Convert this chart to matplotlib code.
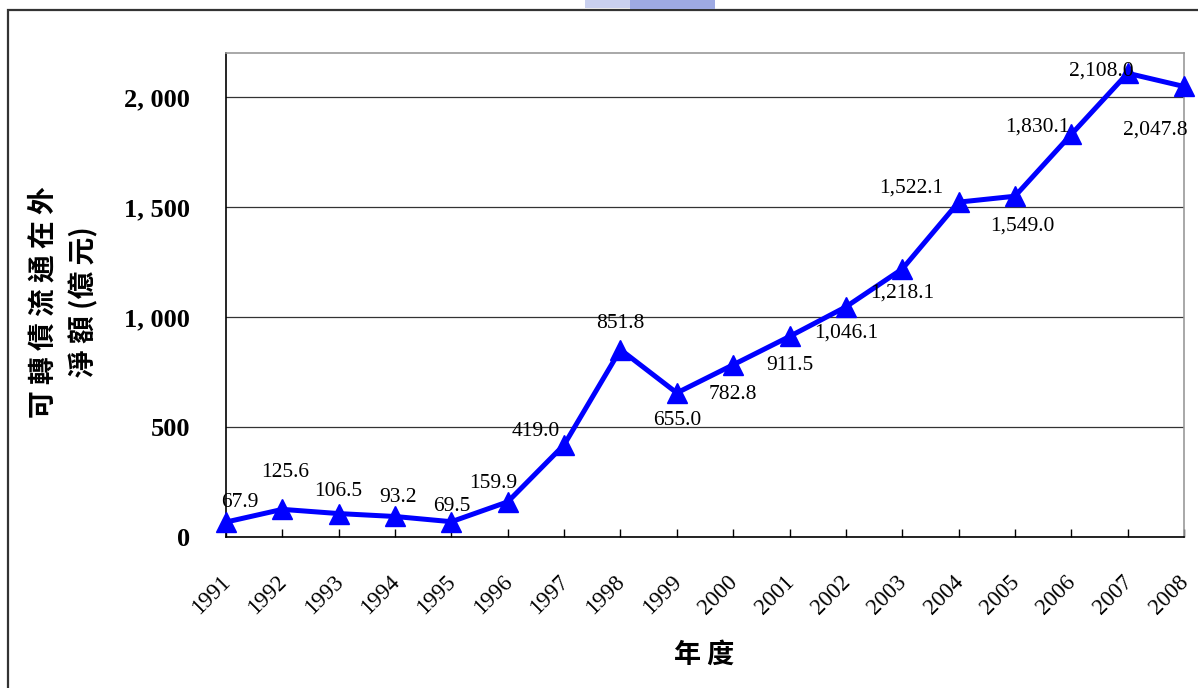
import numpy as np
import matplotlib
matplotlib.use("Agg")
import matplotlib.pyplot as plt
import matplotlib.transforms as mtransforms
from matplotlib.patches import Rectangle

plt.rcParams['font.family'] = ['Liberation Serif', 'Noto Sans CJK TC']

# 可轉債流通在外淨額 (億元)
years = ['1991', '1992', '1993', '1994', '1995', '1996', '1997', '1998', '1999',
         '2000', '2001', '2002', '2003', '2004', '2005', '2006', '2007', '2008']
amount = [67.9, 125.6, 106.5, 93.2, 69.5, 159.9, 419.0, 851.8, 655.0,
          782.8, 911.5, 1046.1, 1218.1, 1522.1, 1549.0, 1830.1, 2108.0, 2047.8]
y_ticks = [0, 500, 1000, 1500, 2000]

# label offsets in pixels (dx, dy) so the numbers don't sit on the line
label_off = [(14, 20), (3, 37), (0, 22), (3, 19), (0, 15), (-15, 18), (-28, 13),
             (0, 26), (0, -28), (0, -30), (0, -29), (0, -26), (0, -24),
             (-47, 14), (7, -30), (-34, 7), (-26, 2), (-29, -44)]

W, H = 1198, 688
fig = plt.figure(figsize=(W / 100, H / 100), dpi=100)
ax = fig.add_axes([226 / W, 151 / H, 958 / W, 484 / H])

x = np.arange(len(years))
ax.plot(x, amount, color='#0000ff', lw=3.6, marker='^', ms=14,
        markerfacecolor='#0000ff', markeredgecolor='#0000ff', zorder=3,
        clip_on=False)

for xi, v, (dx, dy) in zip(x, amount, label_off):
    ax.annotate(f"{v:,.1f}", (xi, v), xytext=(dx, dy), textcoords='offset pixels',
                ha='center', va='center', fontsize=15.5, color='black', zorder=4)

ax.set_xlim(0, len(years) - 1)
ax.set_ylim(0, 2200)
ax.set_yticks(y_ticks)
ax.set_yticklabels([f"{v:,}".replace(",", ", ") for v in y_ticks],
                   fontsize=19, fontweight='bold')
ax.tick_params(axis='y', length=0, pad=26)
ax.yaxis.grid(True, color='#333333', lw=0.9)
ax.set_axisbelow(True)

ax.set_xticks(x)
ax.set_xticklabels(years, rotation=45, ha='right', va='top',
                   rotation_mode='anchor', fontsize=16.5)
ax.tick_params(axis='x', direction='in', length=6, width=1, pad=25)
shift = mtransforms.ScaledTranslation(-6 / 100, 0, fig.dpi_scale_trans)
for lbl in ax.get_xticklabels():
    lbl.set_transform(lbl.get_transform() + shift)

for side in ('left', 'bottom'):
    ax.spines[side].set_color('black')
    ax.spines[side].set_linewidth(1.2)
for side in ('top', 'right'):
    ax.spines[side].set_color('#999999')
    ax.spines[side].set_linewidth(1.2)

fig.text(704 / W, 1 - 655 / H, "年 度", ha='center', va='center', fontsize=19.5,
         fontweight='bold', family=['Noto Sans CJK TC'])
fig.text(64 / W, 1 - 302 / H, "可 轉 債 流 通 在 外\n淨 額 (億 元)", rotation=90,
         ha='center', va='center', multialignment='center', linespacing=1.45,
         fontsize=20, fontweight='bold', family=['Noto Sans CJK TC'])

# outer frame around the chart
fig.patches.append(Rectangle((8 / W, -0.1), 1.2, 1 - 10 / H + 0.1,
                             transform=fig.transFigure, fill=False,
                             edgecolor='#333333', lw=1.6))
# faded logo cut off at the top edge
fig.patches.append(Rectangle((585 / W, 1 - 8 / H), 45 / W, 8 / H,
                             transform=fig.transFigure, facecolor='#c9d0ef',
                             edgecolor='none'))
fig.patches.append(Rectangle((630 / W, 1 - 9 / H), 85 / W, 9 / H,
                             transform=fig.transFigure, facecolor='#9eaae3',
                             edgecolor='none'))

fig.savefig('out.png', dpi=100)
